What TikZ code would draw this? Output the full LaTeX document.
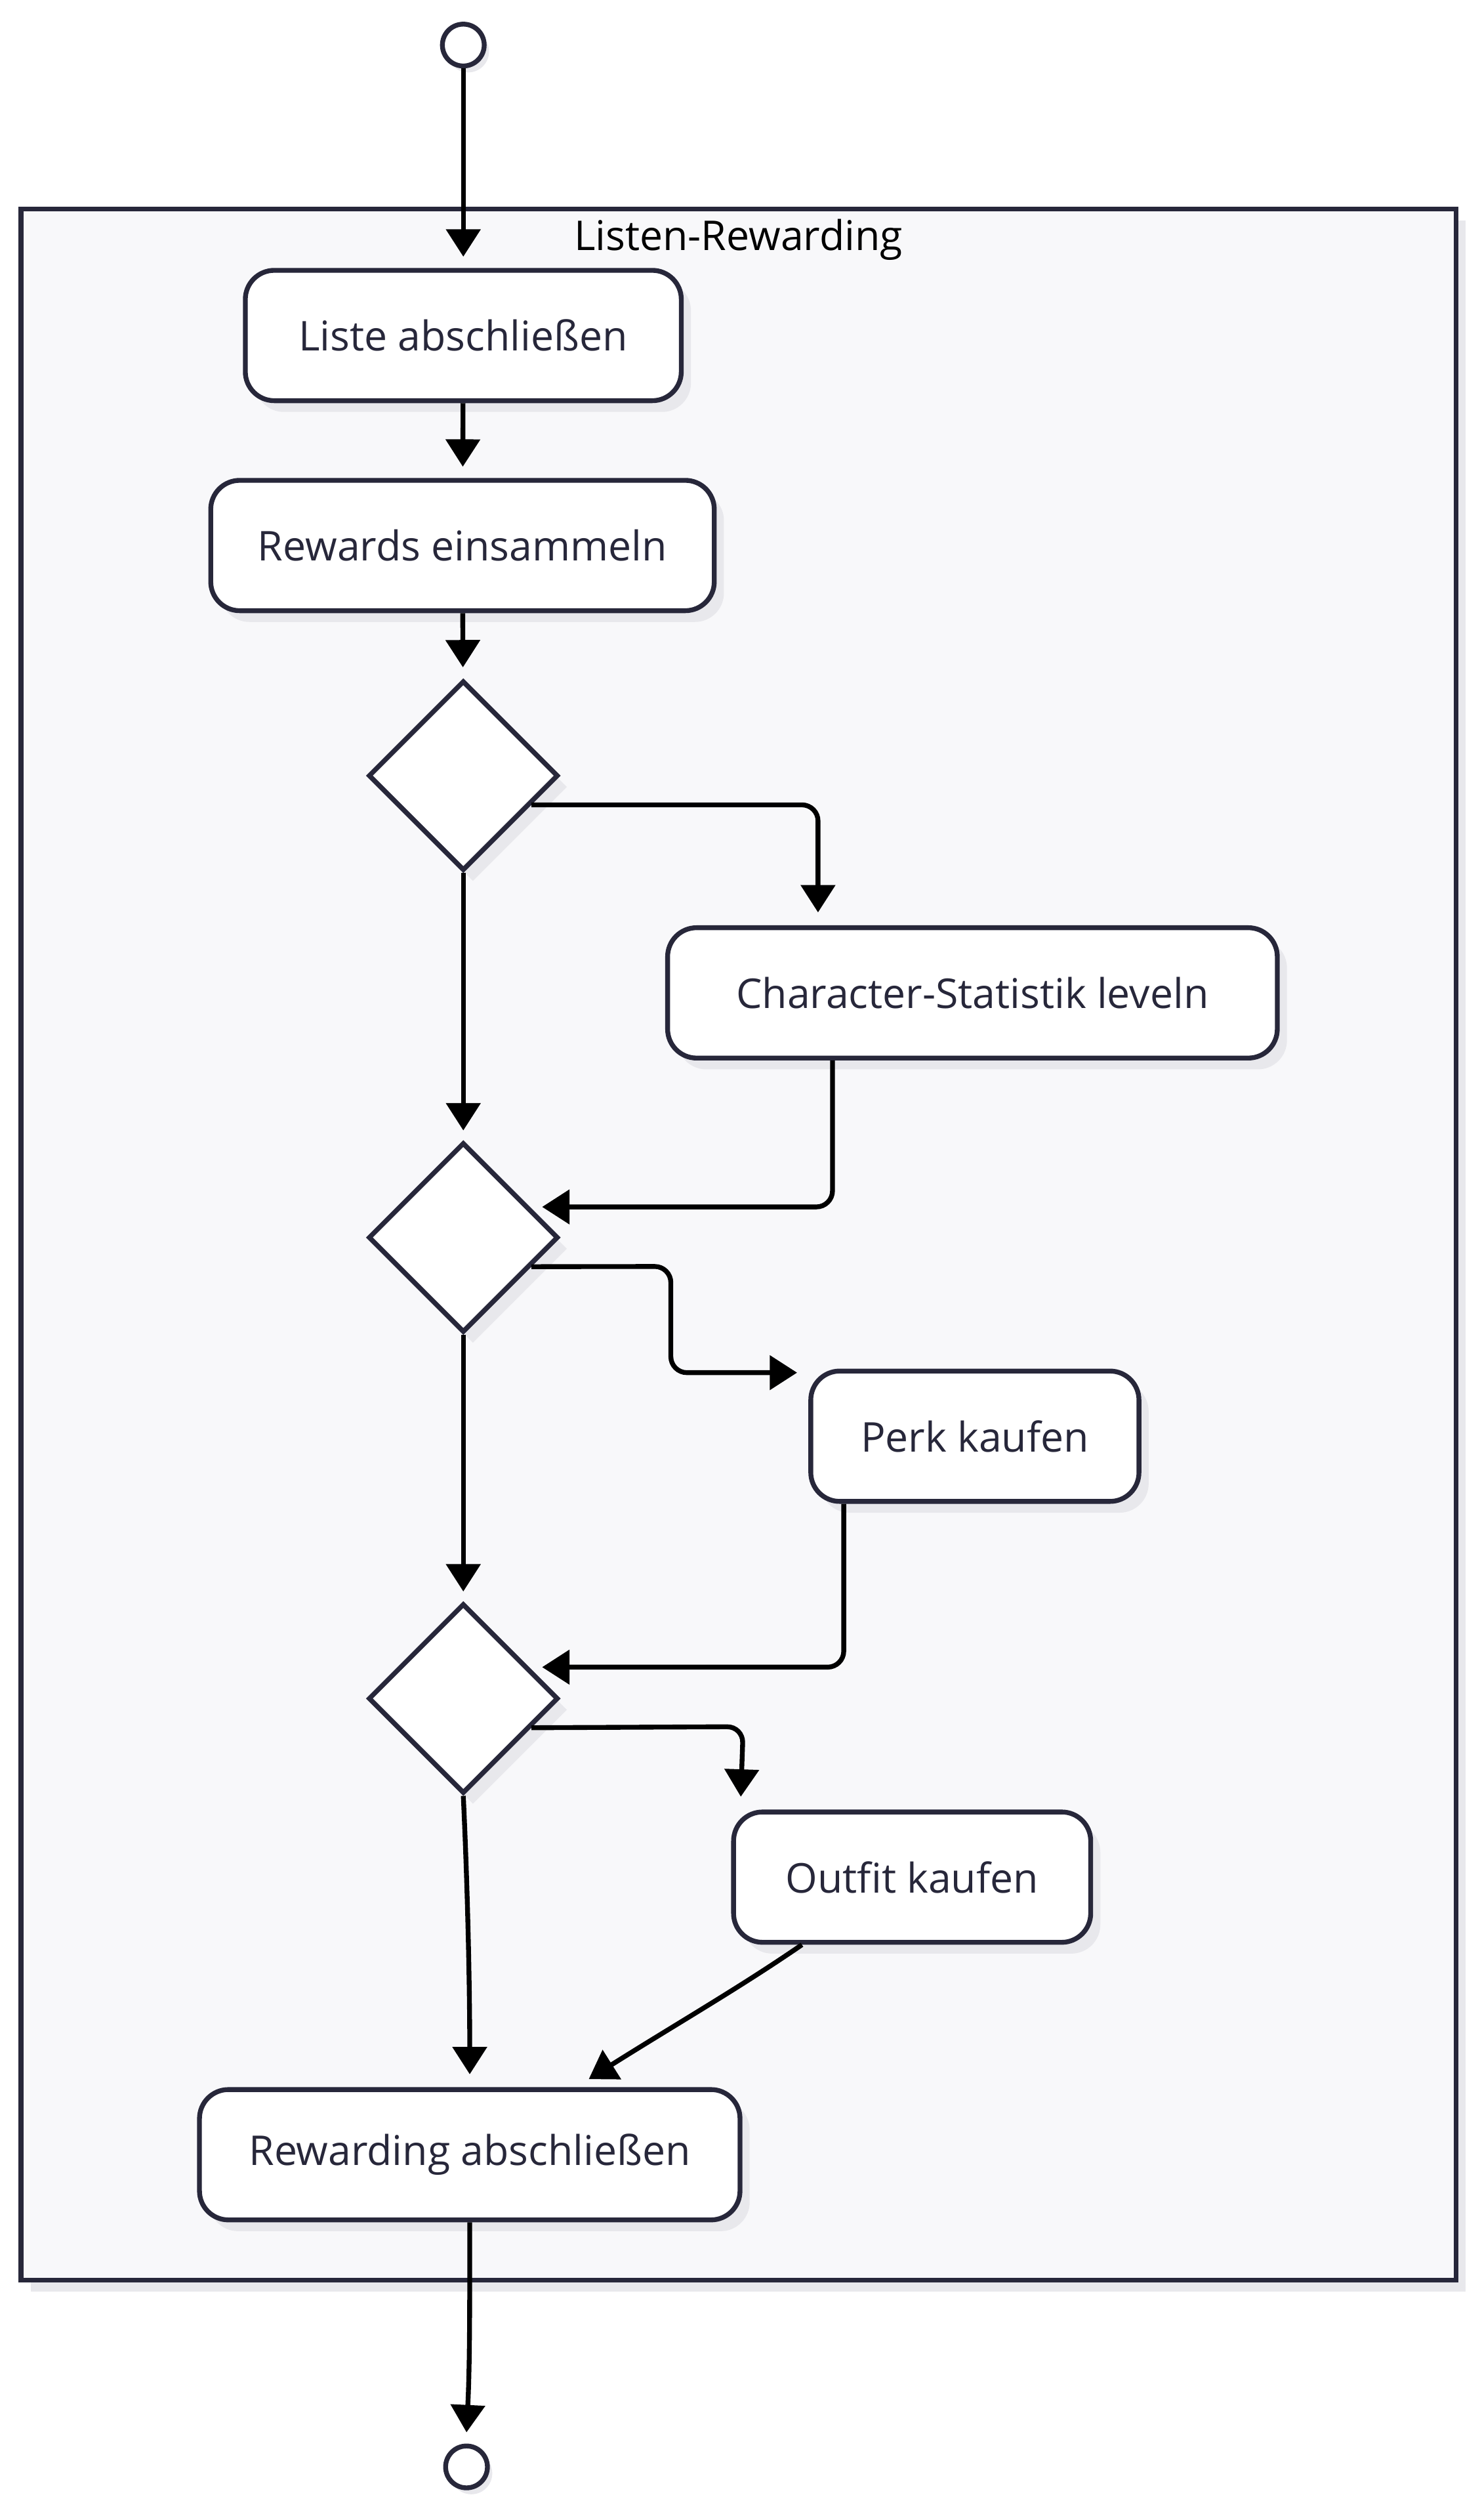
\documentclass[tikz,border=0pt]{standalone}
\usepackage{fontspec}
\setmainfont[Ligatures={NoCommon}]{Open Sans}
\usetikzlibrary{shapes.geometric,arrows.meta,calc,shadows}
\definecolor{strokec}{HTML}{27273A}
\definecolor{clusterc}{HTML}{F8F8FA}
\definecolor{shadowc}{HTML}{E8E8EC}
\begin{document}
\begin{tikzpicture}[x=1pt,y=-1pt,
  every node/.style={font=\fontsize{25.5}{30}\selectfont},
  actbox/.style={draw=strokec, line width=3pt, fill=white, rounded corners=18pt,
    minimum height=81pt, text=strokec, inner sep=0pt,
    general shadow={fill=shadowc, shadow xshift=6pt, shadow yshift=-7pt}},
  decis/.style={draw=strokec, line width=3pt, fill=white, diamond, aspect=1,
    minimum width=118pt, minimum height=118pt, inner sep=0pt,
    general shadow={fill=shadowc, shadow xshift=6pt, shadow yshift=-7pt}},
  termc/.style={draw=strokec, line width=3pt, fill=white, circle,
    minimum size=26pt, inner sep=0pt,
    general shadow={fill=shadowc, shadow xshift=3pt, shadow yshift=-4pt}},
  arr/.style={draw=black, line width=3pt, rounded corners=10pt,
    -{Triangle[length=17pt,width=21pt]}},
]
\useasboundingbox (0,0) rectangle (921,1566);
% cluster
\fill[shadowc] (19,137) rectangle (911,1424);
\draw[strokec, line width=3pt, fill=clusterc] (13,130) rectangle (905,1417);
\node[text=black] (title) at (459,149) {Listen-Rewarding};

\node[termc] (start) at (288,28) {};
\node[actbox, minimum width=271pt] (liste) at (288,208.5) {Liste abschließen};
\node[actbox, minimum width=313pt] (rewards) at (287.5,339) {Rewards einsammeln};
\node[decis] (d1) at (288,482) {};
\node[actbox, minimum width=379pt] (charst) at (604.5,617) {Character-Statistik leveln};
\node[decis] (d2) at (288,769) {};
\node[actbox, minimum width=204pt] (perk) at (606,892.5) {Perk kaufen};
\node[decis] (d3) at (288,1055.5) {};
\node[actbox, minimum width=222pt] (outfit) at (567,1166.5) {Outfit kaufen};
\node[actbox, minimum width=336pt] (rewarding) at (292,1339) {Rewarding abschließen};
\node[termc] (end) at (290,1533) {};

% connectors
\draw[arr, shorten >=7pt] (start) -- (liste);
\draw[arr, shorten >=7pt] (liste) -- (rewards);
\draw[arr, shorten >=7pt] (rewards) -- (d1);
\coordinate (d1x) at ($(d1.east)!0.3!(d1.south)$);
\draw[arr] (d1x) -- ($(d1x -| charst.north)+(-96,0)$) -- ($(charst.north)+(-96,-8)$);
\draw[arr, shorten >=6pt] (d1) -- (d2);
\coordinate (c1) at ($(charst.south west)+(104,0)$);
\draw[arr] (c1) -- (c1 |- 0,750) -- (337,750);
\coordinate (d2x) at ($(d2.east)!0.3!(d2.south)$);
\draw[arr] (d2x) -- (417,787) -- (417,853) -- ($(perk.west |- 0,853)+(-7,0)$);
\draw[arr, shorten >=6pt] (d2) -- (d3);
\coordinate (p1) at ($(perk.south west)+(22,0)$);
\draw[arr] (p1) -- (p1 |- 0,1036) -- (337,1036);
\coordinate (d3x) at ($(d3.east)!0.3!(d3.south)$);
\draw[arr] (d3x) -- (462,1073) -- ($(outfit.north west)+(6,-8)$);
\draw[arr] (d3.south) .. controls (291,1180) and (292,1240) .. ($(rewarding.north)+(0,-8)$);
\coordinate (o1) at ($(outfit.south west)+(44,0)$);
\draw[arr] (o1) .. controls (460,1235) and (420,1258) .. (366,1292);
\draw[arr] (rewarding.south) .. controls (292,1440) and (292,1470) .. ($(end.north)+(0,-7)$);
\end{tikzpicture}
\end{document}
